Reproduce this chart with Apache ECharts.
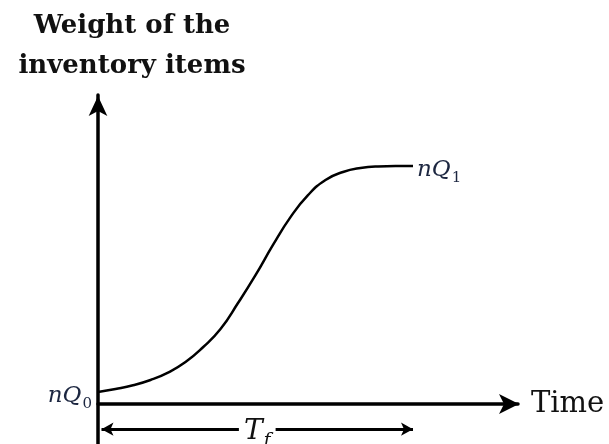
<!DOCTYPE html>
<html>
<head>
<meta charset="utf-8">
<script src="https://cdn.jsdelivr.net/npm/echarts@6/dist/echarts.min.js"></script>
<style>
  html, body { margin: 0; padding: 0; background: #fff; }
  #chart { width: 609px; height: 444px; }
</style>
</head>
<body>
<div id="chart"></div>
<script>
// Growth of the stored weight over one cycle: an S-shaped rise from nQ0 to nQ1.
const time   = [0, 0.5, 1, 1.5, 2, 2.5, 3, 3.5, 4, 4.5, 5, 5.5, 6, 6.5, 7, 7.5, 8, 8.5, 9];
const weight = [0.39, 0.49, 0.61, 0.78, 1.02, 1.36, 1.84, 2.43, 3.27, 4.17, 5.15, 6.05, 6.76, 7.25, 7.51, 7.64, 7.69, 7.70, 7.70];

// Span of the cycle length T_f, drawn beneath the time axis.
const tfSpan  = [0.1, 9.0];
const tfLevel = -0.81;

const startLabel = '{i|nQ}{s|0}';
const endLabel   = '{i|nQ}{s|1}';
const tfLabel    = '{t|T}{f|f}';
const xName = 'Time';
const yName = 'Weight of the\ninventory items';

const serif = 'DejaVu Serif';
const ink = '#1c2640';
const mathRich = {
  i: { fontFamily: serif, fontStyle: 'italic', fontSize: 23, color: ink, lineHeight: 30, verticalAlign: 'bottom' },
  s: { fontFamily: serif, fontSize: 15, color: ink, lineHeight: 30, verticalAlign: 'bottom', padding: [0, 0, -5, 1] },
  t: { fontFamily: serif, fontStyle: 'italic', fontSize: 28, color: '#111', lineHeight: 34, verticalAlign: 'bottom' },
  f: { fontFamily: serif, fontStyle: 'italic', fontSize: 19, color: '#111', lineHeight: 34, verticalAlign: 'bottom', padding: [0, 0, -4, 1] }
};

const points = time.map((t, k) => {
  const p = { value: [t, weight[k]] };
  if (k === 0) {
    p.label = { show: true, position: 'left', distance: 6, offset: [0, -5], formatter: startLabel, rich: mathRich };
  } else if (k === time.length - 1) {
    p.label = { show: true, position: 'right', distance: 4, offset: [0, -3], formatter: endLabel, rich: mathRich };
  }
  return p;
});

const chart = echarts.init(document.getElementById('chart'), null, { renderer: 'canvas' });
chart.setOption({
  animation: false,
  backgroundColor: '#fff',
  title: {
    text: yName,
    left: 127,
    top: 1,
    textAlign: 'center',
    textStyle: { fontFamily: serif, fontWeight: 'bold', fontSize: 26, lineHeight: 40, color: '#111' }
  },
  grid: { left: 98, right: 91, top: 95, bottom: 0, containLabel: false },
  xAxis: {
    type: 'value', min: 0, max: 12,
    name: xName, nameLocation: 'end', nameGap: 13,
    nameTextStyle: { fontFamily: serif, fontSize: 29, color: '#111', verticalAlign: 'middle' },
    axisLine: { onZero: true, lineStyle: { color: '#000', width: 3.5 }, symbol: ['none', 'arrow'], symbolSize: [15, 20], symbolOffset: [0, 1] },
    axisTick: { show: false }, axisLabel: { show: false }, splitLine: { show: false }
  },
  yAxis: {
    type: 'value', min: -1.29, max: 10,
    axisLine: { onZero: false, lineStyle: { color: '#000', width: 3.5 }, symbol: ['none', 'arrow'], symbolSize: [14, 20], symbolOffset: [0, -1] },
    axisTick: { show: false }, axisLabel: { show: false }, splitLine: { show: false }
  },
  series: [{
    type: 'line',
    data: points,
    smooth: 0.5,
    showSymbol: true,
    symbol: 'circle',
    symbolSize: 0,
    lineStyle: { color: '#000', width: 2.5 },
    labelLayout: { hideOverlap: false },
    markLine: {
      silent: true,
      symbol: ['arrow', 'arrow'],
      symbolSize: [10, 12],
      lineStyle: { color: '#000', width: 3, type: 'solid' },
      label: {
        show: true, position: 'insideMiddle', distance: 0,
        formatter: tfLabel, rich: mathRich,
        backgroundColor: '#fff', padding: [0, 5, 0, 5]
      },
      data: [[{ coord: [tfSpan[0], tfLevel] }, { coord: [tfSpan[1], tfLevel] }]]
    }
  }]
});
</script>
</body>
</html>
